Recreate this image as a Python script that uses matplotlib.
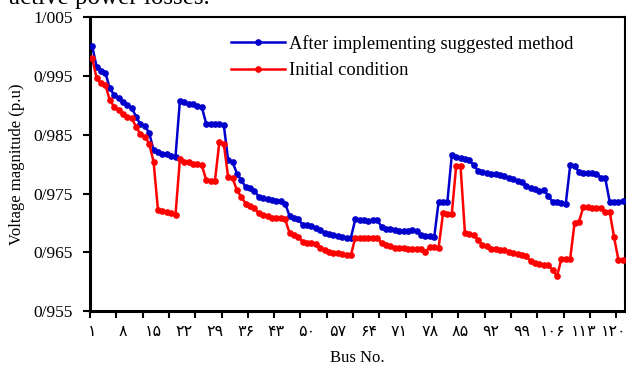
import matplotlib
matplotlib.use("Agg")
import matplotlib.pyplot as plt
from matplotlib.ticker import FixedLocator, FuncFormatter
import numpy as np

buses = list(range(1, 123))

after_method = [
    1.0001, 0.9966, 0.9959, 0.9956, 0.9929, 0.9918, 0.9912, 0.9906, 0.9901, 0.9896,
    0.9881, 0.9868, 0.9865, 0.9853, 0.9824, 0.9820, 0.9818, 0.9817, 0.9814, 0.9813,
    0.9908, 0.9905, 0.9903, 0.9902, 0.9899, 0.9897, 0.9869, 0.9869, 0.9869, 0.9868,
    0.9867, 0.9807, 0.9804, 0.9784, 0.9773, 0.9761, 0.9759, 0.9755, 0.9744, 0.9742,
    0.9740, 0.9739, 0.9738, 0.9738, 0.9733, 0.9712, 0.9709, 0.9706, 0.9697, 0.9696,
    0.9694, 0.9692, 0.9688, 0.9683, 0.9681, 0.9679, 0.9677, 0.9676, 0.9675, 0.9675,
    0.9706, 0.9705, 0.9705, 0.9703, 0.9705, 0.9705, 0.9693, 0.9690, 0.9689, 0.9688,
    0.9686, 0.9686, 0.9686, 0.9688, 0.9686, 0.9679, 0.9677, 0.9677, 0.9676, 0.9736,
    0.9736, 0.9736, 0.9815, 0.9813, 0.9810, 0.9808, 0.9807, 0.9798, 0.9789, 0.9787,
    0.9785, 0.9783, 0.9783, 0.9781, 0.9780, 0.9776, 0.9774, 0.9772, 0.9769, 0.9763,
    0.9760, 0.9757, 0.9755, 0.9756, 0.9746, 0.9736, 0.9736, 0.9734, 0.9733, 0.9798,
    0.9797, 0.9787, 0.9785, 0.9785, 0.9785, 0.9784, 0.9777, 0.9776, 0.9736, 0.9736,
    0.9736, 0.9737,
]

initial = [
    0.9980, 0.9947, 0.9938, 0.9935, 0.9909, 0.9898, 0.9892, 0.9886, 0.9881, 0.9878,
    0.9864, 0.9851, 0.9847, 0.9835, 0.9804, 0.9722, 0.9720, 0.9718, 0.9716, 0.9714,
    0.9809, 0.9804, 0.9803, 0.9801, 0.9801, 0.9798, 0.9773, 0.9772, 0.9772, 0.9838,
    0.9835, 0.9778, 0.9776, 0.9756, 0.9744, 0.9733, 0.9729, 0.9725, 0.9716, 0.9713,
    0.9711, 0.9709, 0.9708, 0.9708, 0.9706, 0.9683, 0.9679, 0.9676, 0.9668, 0.9666,
    0.9665, 0.9664, 0.9658, 0.9654, 0.9651, 0.9649, 0.9648, 0.9647, 0.9646, 0.9645,
    0.9675, 0.9675, 0.9674, 0.9675, 0.9675, 0.9675, 0.9665, 0.9662, 0.9660, 0.9658,
    0.9658, 0.9657, 0.9656, 0.9656, 0.9656, 0.9655, 0.9651, 0.9659, 0.9659, 0.9658,
    0.9716, 0.9715, 0.9715, 0.9797, 0.9796, 0.9683, 0.9681, 0.9679, 0.9671, 0.9662,
    0.9660, 0.9656, 0.9655, 0.9654, 0.9654, 0.9651, 0.9649, 0.9647, 0.9645, 0.9643,
    0.9635, 0.9632, 0.9630, 0.9628, 0.9628, 0.9620, 0.9609, 0.9639, 0.9639, 0.9639,
    0.9700, 0.9702, 0.9727, 0.9727, 0.9726, 0.9726, 0.9725, 0.9719, 0.9719, 0.9676,
    0.9637, 0.9637,
]

series_labels = ["After implementing suggested method", "Initial condition"]
x_label_values = list(range(1, 121, 7))
y_tick_values = [0.955, 0.965, 0.975, 0.985, 0.995, 1.005]
x_title = "Bus No."
y_title = "Voltage magnitude (p.u)"
top_text = "active power losses."

PERSIAN = str.maketrans("0123456789", "۰۱۲۳۴۵۶۷۸۹")

serif = ["Liberation Serif", "DejaVu Serif"]
plt.rcParams["font.family"] = serif

fig = plt.figure(figsize=(6.26, 3.65), dpi=100)
ax = fig.add_axes([90 / 626, 1 - 311 / 365, 535 / 626, (311 - 17.3) / 365])

ax.plot(buses, after_method, color="#0000CC", lw=1.8, marker="o", ms=3.8,
        label=series_labels[0], zorder=3)
ax.plot(buses, initial, color="#FF0000", lw=1.8, marker="o", ms=3.8,
        label=series_labels[1], zorder=3)

ax.set_xlim(0.5, len(buses) + 0.5)
ax.set_ylim(0.955, 1.005)
ax.set_yticks(y_tick_values)
ax.yaxis.set_major_formatter(FuncFormatter(lambda v, p: f"{v:.3f}".replace(".", "/")))
ax.tick_params(axis="y", labelsize=12.5, length=5, width=1.5, direction="out", pad=7.5)

# tick marks every 6 categories (between categories), labels every 7 buses
ax.xaxis.set_major_locator(FixedLocator(np.arange(0.5, len(buses) + 0.6, 6)))
ax.xaxis.set_major_formatter(FuncFormatter(lambda v, p: ""))
ax.xaxis.set_minor_locator(FixedLocator(x_label_values))
ax.xaxis.set_minor_formatter(FuncFormatter(lambda v, p: str(int(round(v))).translate(PERSIAN)))
ax.tick_params(axis="x", which="major", length=5, width=1.5, direction="out")
ax.tick_params(axis="x", which="minor", length=0, pad=9, labelsize=11.5)
for t in ax.xaxis.get_minorticklabels():
    t.set_fontfamily(["DejaVu Sans"])

for s in ["left", "bottom"]:
    ax.spines[s].set_linewidth(2.2)
for s in ["top", "right"]:
    ax.spines[s].set_linewidth(1.5)

ax.set_xlabel(x_title, fontsize=12, labelpad=8)
ax.set_ylabel(y_title, fontsize=12, labelpad=6)

ax.legend(loc="upper left", bbox_to_anchor=(0.25, 0.965), frameon=False,
          fontsize=13.3, handlelength=2.9, handletextpad=0.25, labelspacing=0.5,
          borderaxespad=0)

fig.text(210 / 626, 1 - 4 / 365, top_text, ha="right", va="baseline", fontsize=18)

fig.savefig("out.png", dpi=100)
